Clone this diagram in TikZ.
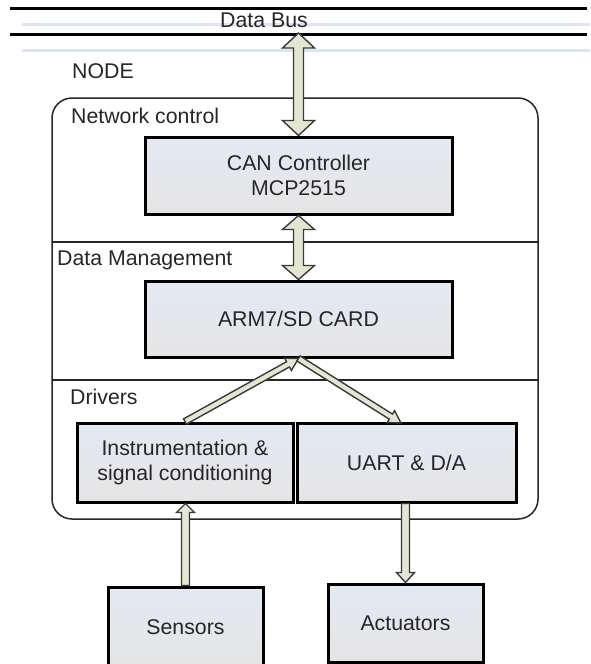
\documentclass[tikz,border=0pt]{standalone}
\usepackage{fontspec}
\setmainfont{Liberation Sans}
\usetikzlibrary{calc}
\definecolor{txt}{HTML}{262626}
\definecolor{boxA}{HTML}{E4E9F2}
\definecolor{boxB}{HTML}{E5E5E5}
\definecolor{arrfill}{HTML}{E3E6D3}
\definecolor{arrline}{HTML}{3A3A3A}
\definecolor{busblue}{HTML}{DCE5F1}
\newcommand\mainfnt{\fontsize{21.3}{25}\selectfont}
\tikzset{
 box/.style={draw=black, line width=3pt, top color=boxA, bottom color=boxB, inner sep=0pt, align=center, font=\mainfnt, text=txt},
 lbl/.style={anchor=base west, inner sep=0pt, font=\mainfnt, text=txt},
 blockarrow/.style={draw=arrline, fill=arrfill, line width=1.4pt, line join=miter},
 frame/.style={draw=black!85, line width=1.5pt},
 busline/.style={line width=3pt, black},
 buslight/.style={line width=3pt, busblue},
}
\newcommand\arrowsetup[2]{%
  \path let \p1=($(#2)-(#1)$) in \pgfextra{%
    \pgfmathsetmacro\tmplen{veclen(\x1,\y1)}%
    \pgfmathsetmacro\tmpang{atan2(\y1,\x1)}%
    \xdef\BAlen{\tmplen}\xdef\BAang{\tmpang}};%
}
\newcommand\sarrow[5]{%
  \arrowsetup{#1}{#2}%
  \draw[blockarrow, shift={(#1)}, rotate=\BAang]
    (0pt,-#3pt) -- ({\BAlen pt-#5pt},-#3pt) -- ({\BAlen pt-#5pt},-#4pt) -- ({\BAlen pt},0pt)
    -- ({\BAlen pt-#5pt},#4pt) -- ({\BAlen pt-#5pt},#3pt) -- (0pt,#3pt) -- cycle;}
\newcommand\darrow[5]{%
  \arrowsetup{#1}{#2}%
  \draw[blockarrow, shift={(#1)}, rotate=\BAang]
    (0pt,0pt) -- (#5pt,-#4pt) -- (#5pt,-#3pt) -- ({\BAlen pt-#5pt},-#3pt) -- ({\BAlen pt-#5pt},-#4pt) -- ({\BAlen pt},0pt)
    -- ({\BAlen pt-#5pt},#4pt) -- ({\BAlen pt-#5pt},#3pt) -- (#5pt,#3pt) -- (#5pt,#4pt) -- cycle;}
\begin{document}
\begin{tikzpicture}[x=1pt,y=-1pt]
\useasboundingbox (0,0) rectangle (590,664);
% data bus
\draw[buslight] (22,24) -- (590,24);
\draw[buslight] (22,50) -- (590,50);
\draw[busline] (10,8) -- (587,8);
\draw[busline] (10,34) -- (587,34);
\node[anchor=base, inner sep=0pt, font=\mainfnt, text=txt] (bus) at (264,27) {Data Bus};
\coordinate (busp) at (298.5,33);
% node frame
\draw[frame, rounded corners=20pt] (52,98) rectangle (538,519);
\draw[frame] (52,242) -- (538,242);
\draw[frame] (52,380) -- (538,380);
% labels
\node[lbl] (nodelbl) at (72,78) {NODE};
\node[lbl] (netlbl) at (71,123) {Network control};
\node[lbl] (dmlbl) at (57,265) {Data Management};
\node[lbl] (drvlbl) at (70,404) {Drivers};
% boxes
\node[box, minimum width=307pt, minimum height=77pt] (can) at (298.5,175.5) {CAN Controller\\MCP2515};
\node[box, minimum width=307pt, minimum height=76pt] (arm) at (298.5,319) {ARM7/SD CARD};
\node[box, minimum width=216pt, minimum height=79pt] (instr) at (185,462.5) {Instrumentation \&\\signal conditioning};
\node[box, minimum width=219pt, minimum height=79pt] (uart) at (406.5,462.5) {UART \& D/A};
\node[box, minimum width=155pt, minimum height=80pt] (sens) at (185.5,627) {Sensors};
\node[box, minimum width=155pt, minimum height=78pt] (act) at (405.5,623) {Actuators};
% connectors
\darrow{busp}{can.north}{5}{16}{15}
\darrow{can.south}{arm.north}{5}{16}{14}
\sarrow{instr.north}{arm.south}{3}{7}{12}
\coordinate (uartin) at (401,423);
\sarrow{arm.south}{uartin}{3}{7}{12}
\coordinate (sensin) at (sens.north |- instr.south);
\sarrow{sens.north}{sensin}{4}{9}{9}
\coordinate (actout) at (act.north |- uart.south);
\sarrow{actout}{act.north}{4}{9}{10}
\end{tikzpicture}
\end{document}
